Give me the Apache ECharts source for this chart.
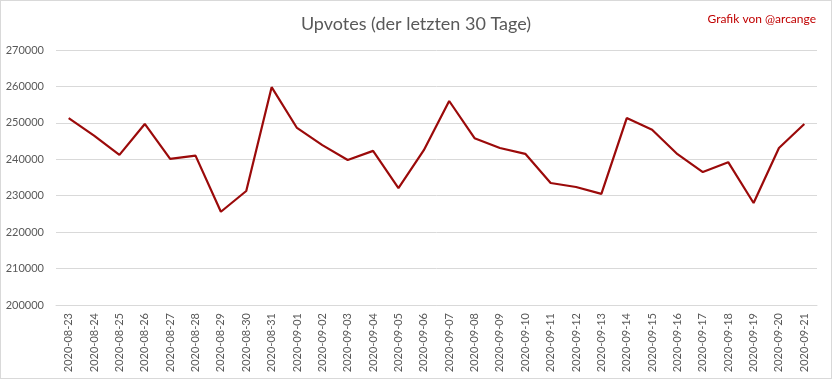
<!DOCTYPE html>
<html><head><meta charset="utf-8">
<script src="https://cdn.jsdelivr.net/npm/echarts@6/dist/echarts.min.js"></script>
<style>html,body{margin:0;padding:0;background:#fff}#c{width:830px;height:377px;border:1px solid #d9d9d9}</style>
</head><body><div id="c"></div>
<script>
const categories = ["2020-08-23","2020-08-24","2020-08-25","2020-08-26","2020-08-27","2020-08-28","2020-08-29","2020-08-30","2020-08-31","2020-09-01","2020-09-02","2020-09-03","2020-09-04","2020-09-05","2020-09-06","2020-09-07","2020-09-08","2020-09-09","2020-09-10","2020-09-11","2020-09-12","2020-09-13","2020-09-14","2020-09-15","2020-09-16","2020-09-17","2020-09-18","2020-09-19","2020-09-20","2020-09-21"];
const upvotes = [251300,246500,241200,249700,240100,241000,225600,231300,259800,248600,243900,239800,242300,232100,242500,256000,245800,243100,241500,233500,232400,230500,251300,248100,241400,236500,239200,228000,243100,249700];
const titleText = "Upvotes (der letzten 30 Tage)";
const creditText = "Grafik von @arcange";
const chart = echarts.init(document.getElementById('c'));
chart.setOption({
  animation:false,
  textStyle:{fontFamily:'Lato'},
  title:[{text:titleText,left:'center',top:9,textStyle:{fontFamily:'Lato',fontSize:18,fontWeight:'normal',color:'#595959'}},
         {text:creditText,right:10,top:7,textStyle:{fontFamily:'Lato',fontSize:12,fontWeight:'normal',color:'#c00000'}}],
  grid:{left:55,right:14,top:49,bottom:73},
  xAxis:{type:'category',data:categories,boundaryGap:true,
    axisLine:{lineStyle:{color:'#d9d9d9'}},axisTick:{show:false},
    axisLabel:{rotate:90,color:'#595959',fontSize:11,interval:0,margin:8}},
  yAxis:{type:'value',min:200000,max:270000,interval:10000,
    axisLine:{show:false},axisTick:{show:false},
    splitLine:{lineStyle:{color:'#d9d9d9'}},
    axisLabel:{color:'#595959',fontSize:11,margin:12,formatter:v=>String(v)}},
  series:[{type:'line',data:upvotes,symbol:'none',lineStyle:{color:'#9b0a0a',width:2.2}}]
});
</script></body></html>
